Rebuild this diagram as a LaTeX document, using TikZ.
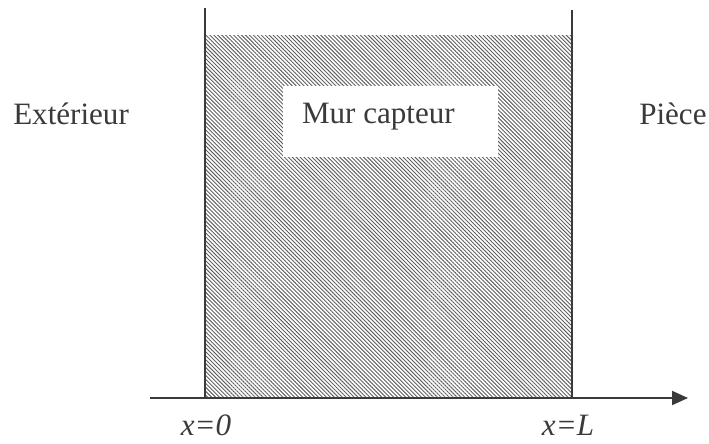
\documentclass[tikz,border=0pt]{standalone}
\usepackage{fontspec}
\setmainfont{Liberation Serif}
\usetikzlibrary{arrows.meta,positioning,calc,patterns.meta}
\definecolor{inkgray}{HTML}{3A3A3A}
\definecolor{hatchgray}{HTML}{606060}
\tikzset{
  label text/.style={font=\fontsize{23.3}{27}\selectfont,text=inkgray,inner sep=0pt},
  wall line/.style={draw=inkgray,line width=1.5pt},
  hatch/.style={pattern={Lines[angle=-45,distance=2.1pt,line width=0.7pt]},pattern color=hatchgray}
}
\begin{document}
\begin{tikzpicture}[x=0.75pt,y=-0.75pt]
\path[use as bounding box] (0,0) rectangle (709,443);

% Wall section between x=0 and x=L
\fill[hatch] (206,35) rectangle (571,398);
\node[fill=white,inner sep=0pt,minimum width=161.25pt,minimum height=53.25pt]
  (box) at (390.5,121.5) {};
\node[label text,anchor=base west] (mur) at ($(box.west)+(19,1.5)$) {Mur capteur};

% Wall faces and axis
\coordinate (w0top) at (205,8);
\coordinate (wLtop) at (572,10);
\coordinate (axstart) at (150,398);
\coordinate (axend) at (688,398);
\draw[wall line] (w0top) -- (w0top |- axstart);
\draw[wall line] (wLtop) -- (wLtop |- axstart);
\draw[wall line,-{Triangle[length=12pt,width=10.5pt]}] (axstart) -- (axend);

% Labels
\node[label text,anchor=base west] (ext) at (13,124) {Extérieur};
\node[label text,anchor=base west] (piece) at (639,124) {Pièce};
\node[label text,anchor=base] (x0) at (206,435) {\textit{x=0}};
\node[label text,anchor=base] (xL) at (568,435) {\textit{x=L}};
\end{tikzpicture}
\end{document}
